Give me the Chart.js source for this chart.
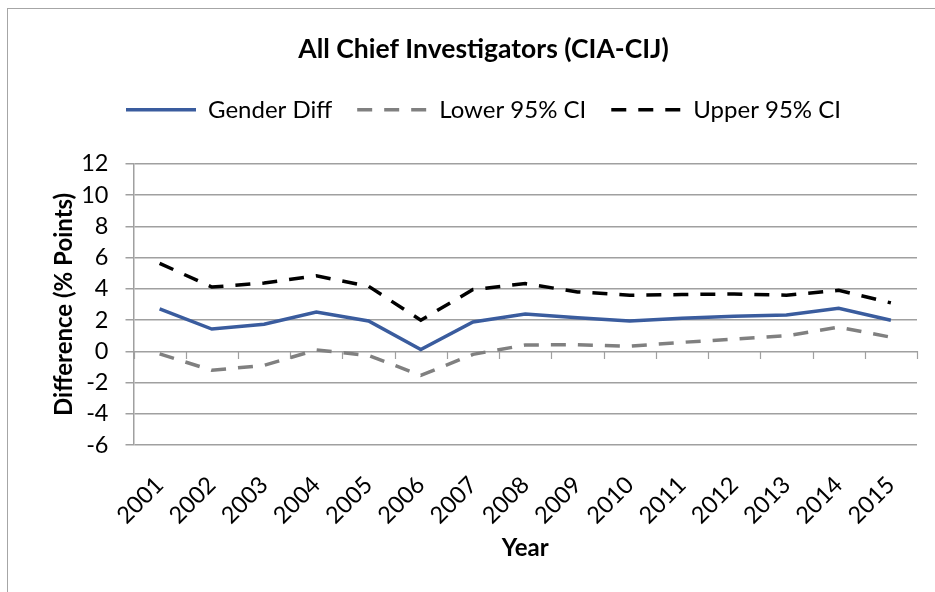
<!DOCTYPE html>
<html>
<head>
<meta charset="utf-8">
<script src="https://cdn.jsdelivr.net/npm/chart.js@4.4.1/dist/chart.umd.min.js"></script>
<style>
  html, body { margin: 0; padding: 0; background: #fff; }
  #wrap { position: relative; width: 935px; height: 592px; overflow: hidden; }
  #frame { position: absolute; left: 7px; top: 8px; width: 1000px; height: 700px; border: 1.5px solid #a6a6a6; box-sizing: border-box; }
  #cv { position: absolute; left: 0; top: 0; }
</style>
</head>
<body>
<div id="wrap">
  <div id="frame"></div>
  <canvas id="cv" width="935" height="592"></canvas>
</div>
<script>
const years = ['2001','2002','2003','2004','2005','2006','2007','2008','2009','2010','2011','2012','2013','2014','2015'];
const genderDiff = [2.72, 1.42, 1.73, 2.51, 1.94, 0.11, 1.88, 2.39, 2.15, 1.94, 2.11, 2.24, 2.32, 2.75, 1.99];
const lowerCI   = [-0.17, -1.22, -0.90, 0.08, -0.27, -1.54, -0.20, 0.40, 0.42, 0.32, 0.57, 0.78, 0.99, 1.54, 0.90];
const upperCI   = [5.63, 4.11, 4.37, 4.83, 4.16, 1.99, 3.95, 4.33, 3.80, 3.59, 3.63, 3.67, 3.59, 3.90, 3.10];
const yTicks = [-6, -4, -2, 0, 2, 4, 6, 8, 10, 12];

const FONT = "Lato, 'Open Sans', sans-serif";
const gridColor = '#a0a0a0';

// tick marks on the horizontal axis, which crosses the vertical axis at 0
const zeroAxisTicks = {
  id: 'zeroAxisTicks',
  beforeDatasetsDraw(chart) {
    const x = chart.scales.x, y = chart.scales.y;
    const y0 = Math.round(y.getPixelForValue(0));
    const ctx = chart.ctx;
    ctx.save();
    ctx.strokeStyle = gridColor;
    ctx.lineWidth = 1.2;
    ctx.beginPath();
    for (let i = 0; i <= years.length; i++) {
      const px = Math.round(x.getPixelForValue(i - 0.5)) + 0.5;
      ctx.moveTo(px, y0);
      ctx.lineTo(px, y0 + 8);
    }
    ctx.stroke();
    ctx.restore();
  }
};

// extra space below the legend
const legendSpace = {
  id: 'legendSpace',
  beforeInit(chart) {
    const orig = chart.legend.fit;
    chart.legend.fit = function () {
      orig.call(this);
      this.height += 32;
    };
  }
};

new Chart(document.getElementById('cv'), {
  type: 'line',
  data: {
    labels: years,
    datasets: [
      { label: 'Gender Diff', data: genderDiff, borderColor: '#3A5C9E', backgroundColor: '#3A5C9E', borderWidth: 3.5, pointRadius: 0, tension: 0, fill: false },
      { label: 'Lower 95% CI', data: lowerCI, borderColor: '#808080', backgroundColor: '#808080', borderWidth: 3.5, borderDash: [15, 12], pointRadius: 0, tension: 0, fill: false },
      { label: 'Upper 95% CI', data: upperCI, borderColor: '#000000', backgroundColor: '#000000', borderWidth: 3.5, borderDash: [15, 12], pointRadius: 0, tension: 0, fill: false }
    ]
  },
  plugins: [zeroAxisTicks, legendSpace],
  options: {
    responsive: false,
    animation: false,
    devicePixelRatio: 1,
    layout: { padding: { left: 50, right: 18, top: 34, bottom: 22 } },
    plugins: {
      title: {
        display: true,
        text: 'All Chief Investigators (CIA-CIJ)',
        color: '#000',
        font: { family: FONT, size: 26.5, weight: 'bold' },
        padding: { top: 0, bottom: 7 }
      },
      legend: {
        display: true,
        labels: {
          color: '#000',
          font: { family: FONT, size: 24 },
          usePointStyle: true,
          pointStyle: 'line',
          pointStyleWidth: 70,
          boxHeight: 4,
          padding: 25,
          generateLabels(chart) {
            return chart.data.datasets.map((ds, i) => ({
              text: ds.label,
              fillStyle: ds.borderColor,
              strokeStyle: ds.borderColor,
              lineWidth: 3.5,
              lineDash: ds.borderDash || [],
              lineCap: 'butt',
              pointStyle: 'line',
              hidden: false,
              datasetIndex: i,
              fontColor: '#000'
            }));
          }
        }
      },
      tooltip: { enabled: false }
    },
    scales: {
      x: {
        type: 'category',
        offset: true,
        afterFit(scale) { scale.height = 125; },
        grid: { display: false },
        border: { display: false },
        ticks: {
          color: '#000',
          font: { family: FONT, size: 23.5 },
          maxRotation: 45,
          minRotation: 45,
          padding: 18,
          autoSkip: false
        },
        title: {
          display: true,
          text: 'Year',
          color: '#000',
          font: { family: FONT, size: 24, weight: 'bold' },
          padding: { top: 0, bottom: 7 }
        }
      },
      y: {
        min: -6,
        max: 12,
        afterBuildTicks(scale) { scale.ticks = yTicks.map(v => ({ value: v })); },
        afterFit(scale) { scale.width = 83.5; },
        grid: { color: gridColor, lineWidth: 1.5, tickLength: 8 },
        border: { display: true, color: gridColor, width: 1.5 },
        ticks: {
          color: '#000',
          font: { family: FONT, size: 23.5 },
          padding: 17,
          autoSkip: false
        },
        title: {
          display: true,
          text: 'Difference (% Points)',
          color: '#000',
          font: { family: FONT, size: 24, weight: 'bold' },
          padding: { top: 0, bottom: 0 }
        }
      }
    }
  }
});
</script>
</body>
</html>
